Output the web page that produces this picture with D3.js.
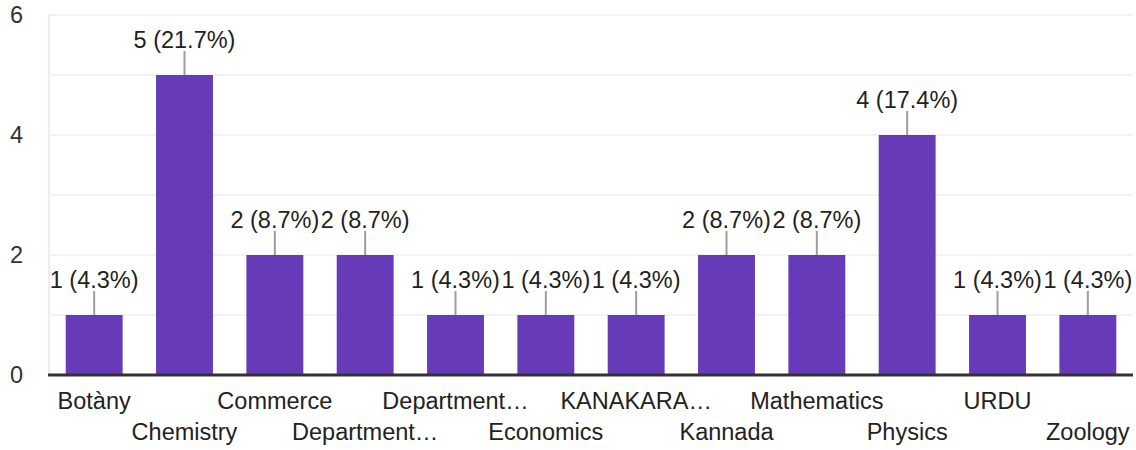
<!DOCTYPE html>
<html>
<head>
<meta charset="utf-8">
<script src="https://cdnjs.cloudflare.com/ajax/libs/d3/7.8.5/d3.min.js"></script>
<style>
html,body{margin:0;padding:0;background:#fff;}
svg{display:block;font-family:"Liberation Sans",Arial,sans-serif;}
</style>
</head>
<body>
<svg id="chart" width="1136" height="450"></svg>
<script>
const categories = ["Botàny","Chemistry","Commerce","Department…","Department…","Economics","KANAKARA…","Kannada","Mathematics","Physics","URDU","Zoology"];
const counts = [1,5,2,2,1,1,1,2,2,4,1,1];
const barLabels = ["1 (4.3%)","5 (21.7%)","2 (8.7%)","2 (8.7%)","1 (4.3%)","1 (4.3%)","1 (4.3%)","2 (8.7%)","2 (8.7%)","4 (17.4%)","1 (4.3%)","1 (4.3%)"];
const yTicks = [0,2,4,6];
const gridValues = [1,2,3,4,5,6];

const svg = d3.select("#chart");
const mLeft = 49, mRight = 1133, mTop = 15, mBottom = 375;
const fs = 23.5;

const x = d3.scaleBand().domain(d3.range(categories.length)).range([mLeft, mRight]).paddingInner(0.37).paddingOuter(0.185);
const y = d3.scaleLinear().domain([0, 6]).range([mBottom, mTop]);

// gridlines
svg.append("g").selectAll("line").data(gridValues).join("line")
  .attr("x1", mLeft).attr("x2", mRight)
  .attr("y1", d => y(d)).attr("y2", d => y(d))
  .attr("stroke", "#f3f3f3").attr("stroke-width", 2);
svg.append("line").attr("x1", mLeft).attr("x2", mLeft).attr("y1", mTop - 1).attr("y2", mBottom)
  .attr("stroke", "#ededed").attr("stroke-width", 2.5);

// y tick labels
svg.append("g").selectAll("text").data(yTicks).join("text")
  .attr("x", 23).attr("y", d => y(d) + 8)
  .attr("text-anchor", "end").attr("font-size", fs).attr("fill", "#333")
  .text(d => d);

// bars
svg.append("g").selectAll("rect").data(counts).join("rect")
  .attr("x", (d, i) => x(i)).attr("width", x.bandwidth())
  .attr("y", d => y(d)).attr("height", d => y(0) - y(d))
  .attr("fill", "#673ab7");

// zero axis
svg.append("line").attr("x1", mLeft - 1).attr("x2", mRight).attr("y1", mBottom).attr("y2", mBottom)
  .attr("stroke", "#333").attr("stroke-width", 3);

// leader lines
svg.append("g").selectAll("line").data(counts).join("line")
  .attr("x1", (d, i) => x(i) + x.bandwidth() / 2).attr("x2", (d, i) => x(i) + x.bandwidth() / 2)
  .attr("y1", d => y(d)).attr("y2", d => y(d) - 24)
  .attr("stroke", "#9e9e9e").attr("stroke-width", 2);

// value labels
svg.append("g").selectAll("text").data(counts).join("text")
  .attr("x", (d, i) => x(i) + x.bandwidth() / 2).attr("y", d => y(d) - 27)
  .attr("text-anchor", "middle").attr("font-size", fs).attr("fill", "#222")
  .text((d, i) => barLabels[i]);

// category labels
svg.append("g").selectAll("text").data(categories).join("text")
  .attr("x", (d, i) => x(i) + x.bandwidth() / 2).attr("y", (d, i) => i % 2 === 0 ? 409 : 440)
  .attr("text-anchor", "middle").attr("font-size", fs).attr("fill", "#222")
  .text(d => d);
</script>
</body>
</html>
